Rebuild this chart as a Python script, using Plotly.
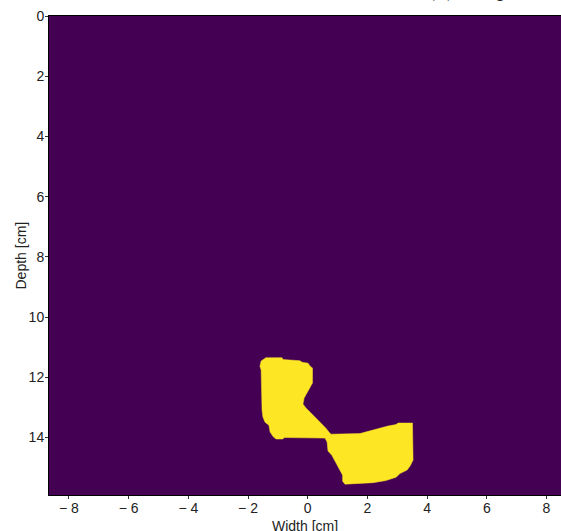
import plotly.graph_objects as go

# Mask outline (Width [cm], Depth [cm])
mask_x = [-1.60, -1.56, -1.40, -0.86, -0.83, -0.26, -0.19, 0.01, 0.08, 0.16,
          0.16, 0.08, -0.02, -0.12, -0.16, -0.06, 0.11, 0.28, 0.45, 0.61,
          0.71, 0.78, 1.75, 1.99, 2.19, 2.42, 2.69, 2.96, 3.03, 3.51,
          3.53, 3.43, 3.33, 3.09, 2.96, 2.62, 2.19, 1.25, 1.17, 1.17,
          1.08, 1.02, 0.92, 0.81, 0.68, 0.65, 0.58, -0.53, -0.79, -0.83,
          -1.06, -1.16, -1.26, -1.30, -1.43, -1.50, -1.53, -1.56]
mask_y = [11.63, 11.46, 11.35, 11.35, 11.41, 11.45, 11.50, 11.53, 11.63, 11.69,
          12.19, 12.33, 12.49, 12.69, 12.89, 13.02, 13.19, 13.36, 13.52, 13.69,
          13.82, 13.89, 13.87, 13.80, 13.75, 13.70, 13.62, 13.57, 13.52, 13.52,
          14.75, 14.95, 15.08, 15.20, 15.32, 15.43, 15.50, 15.55, 15.45, 15.25,
          15.08, 14.95, 14.75, 14.59, 14.45, 14.15, 14.02, 13.99, 14.00, 14.05,
          14.05, 13.97, 13.82, 13.59, 13.49, 13.32, 13.09, 11.76]

x_tickvals = [-8, -6, -4, -2, 0, 2, 4, 6, 8]
x_ticktext = ["\u2212 8", "\u2212 6", "\u2212 4", "\u2212 2", "0", "2", "4", "6", "8"]
y_tickvals = [0, 2, 4, 6, 8, 10, 12, 14]
y_ticktext = ["0", "2", "4", "6", "8", "10", "12", "14"]

x_range = [-8.667, 8.486]
y_range = [15.91, 0]

PURPLE = "#440154"
YELLOW = "#fde725"

fig = go.Figure()
fig.add_trace(go.Scatter(
    x=mask_x + [mask_x[0]], y=mask_y + [mask_y[0]],
    mode="lines", fill="toself", fillcolor=YELLOW,
    line=dict(color=YELLOW, width=0.5), hoverinfo="skip", showlegend=False))

font = dict(family="Liberation Sans, Arial, sans-serif", size=14, color="#222222")

fig.update_layout(
    width=561, height=531,
    margin=dict(l=49, r=0, t=16, b=36, autoexpand=False),
    paper_bgcolor="white", plot_bgcolor=PURPLE,
    font=font, showlegend=False,
    xaxis=dict(range=x_range, tickvals=x_tickvals, ticktext=x_ticktext,
               showgrid=False, zeroline=False, ticks="outside", ticklen=3,
               ticklabelstandoff=-3,
               tickcolor="#333333", showline=True, linecolor="black", linewidth=1,
               mirror=True, automargin=False),
    yaxis=dict(range=y_range, tickvals=y_tickvals, ticktext=y_ticktext,
               showgrid=False, zeroline=False, ticks="outside", ticklen=3,
               ticklabelstandoff=-2,
               tickcolor="#333333", showline=True, linecolor="black", linewidth=1,
               mirror=True, automargin=False),
    annotations=[
        dict(text="(b) Output", xref="paper", yref="paper",
             x=0.734, y=1, xanchor="left", yanchor="bottom", yshift=13,
             showarrow=False,
             font=dict(family="Liberation Serif, Times New Roman, serif",
                       size=24, color="#222222")),
        dict(text="Width [cm]", xref="paper", yref="paper",
             x=0.5, y=0, xanchor="center", yanchor="middle", yshift=-31,
             xshift=0, showarrow=False, font=font),
        dict(text="Depth [cm]", xref="paper", yref="paper",
             x=0, y=0.5, xanchor="center", yanchor="middle", xshift=-29,
             textangle=-90, showarrow=False, font=font),
    ],
)

fig.write_html("out.html", config={"displayModeBar": False},
               post_script="document.body.style.margin='0';document.body.style.overflow='hidden';")
